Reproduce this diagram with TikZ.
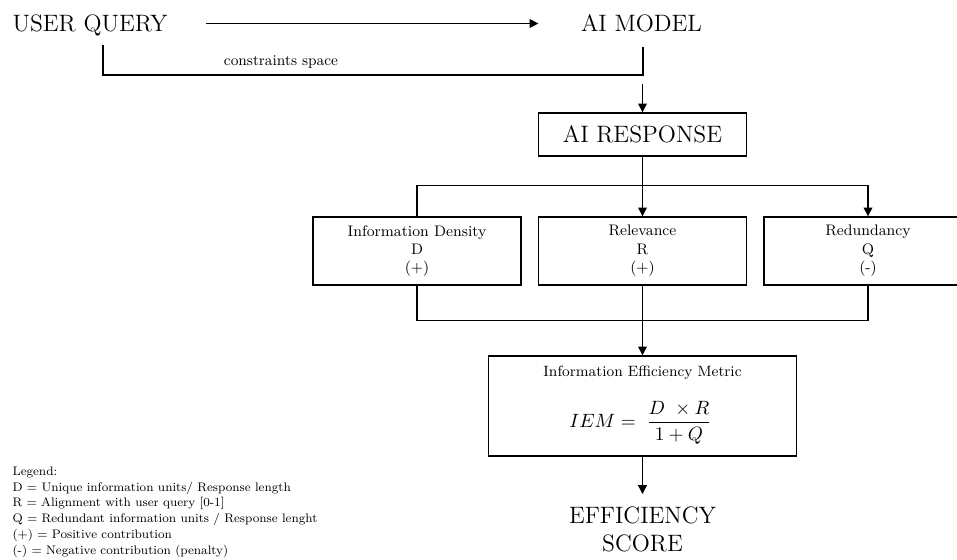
\documentclass[tikz,border=0pt]{standalone}
\usepackage{amsmath,amsfonts,amssymb}
\usetikzlibrary{arrows.meta}

\begin{document}
\begin{tikzpicture}[x=0.02cm, y=-0.02cm, line width=0.7pt,
	bigtext/.style={font=\fontsize{13.5}{16}\selectfont, text height=9.5pt, text depth=0pt, inner sep=2pt},
	mybox/.style={draw, line width=0.8pt, align=center},
	smalltext/.style={font=\fontsize{8.7}{10.5}\selectfont},
	metricbox/.style={mybox, smalltext, minimum width=4.16cm, minimum height=1.36cm, inner sep=0pt},
	arr/.style={-{Triangle[length=5pt,width=5pt]}}]
			\useasboundingbox (0,0) rectangle (957,560);
			\clip (0,0) rectangle (957,560);
			\node (uq) at (90,23.5) [bigtext] {USER QUERY};
			\node (aim) at (641.5,23.5) [bigtext] {AI MODEL};
			\node (cs) at (281,62) [font=\fontsize{8.5}{10}\selectfont] {constraints space};
			\coordinate (csl) at (103,45);
			\coordinate (csr) at (643,47);
			\coordinate (rin) at (642.5,84);
			\node (resp) at (642.5,134.5) [mybox, bigtext, minimum width=4.16cm, minimum height=0.86cm] {AI RESPONSE};
			\node (dens) at (417,251) [metricbox] {Information Density\\D\\(+)};
			\node (rel) at (642.5,251) [metricbox] {Relevance\\R\\(+)};
			\node (red) at (868,251) [metricbox] {Redundancy\\Q\\(-)};
			\node (iem) at (642.5,406) [mybox, minimum width=6.16cm, minimum height=2cm] {};
			\node (iemt) at (642.5,373) [font=\fontsize{8.5}{10}\selectfont] {Information Efficiency Metric};
			\node (iemf) at (640.5,423) [font=\fontsize{10.5}{12}\selectfont] {$IEM = \;\dfrac{D\ \times R}{1+Q}$};
			\node (eff) at (642.5,494) [anchor=north, align=center, font=\fontsize{13.5}{16}\selectfont, inner xsep=2pt, inner ysep=7pt] {EFFICIENCY\\SCORE};
			\node (leg) at (12,466) [anchor=north west, align=left, inner sep=0pt, scale=0.88, transform shape, font=\fontsize{8}{10.3}\selectfont] {Legend:\\D = Unique information units/ Response length\\R = Alignment with user query [0-1]\\Q = Redundant information units / Response lenght\\(+) = Positive contribution\\(-) = Negative contribution (penalty)};
			
			\draw[arr, shorten <=0.69cm, shorten >=0.77cm] (uq)--(aim);
			\draw (csl)--(103,75)--(643,75)--(csr);
			\draw[arr] (rin)--(resp);
			\draw[arr] (resp)--(rel);
			\draw[arr] (dens.north)--++(0,-31)-|(red.north);
			\draw (dens.south)--++(0,35)-|(red.south);
			\draw[arr] (rel)--(iem);
			\draw[arr] (iem)--(eff);
		\end{tikzpicture}
\end{document}
